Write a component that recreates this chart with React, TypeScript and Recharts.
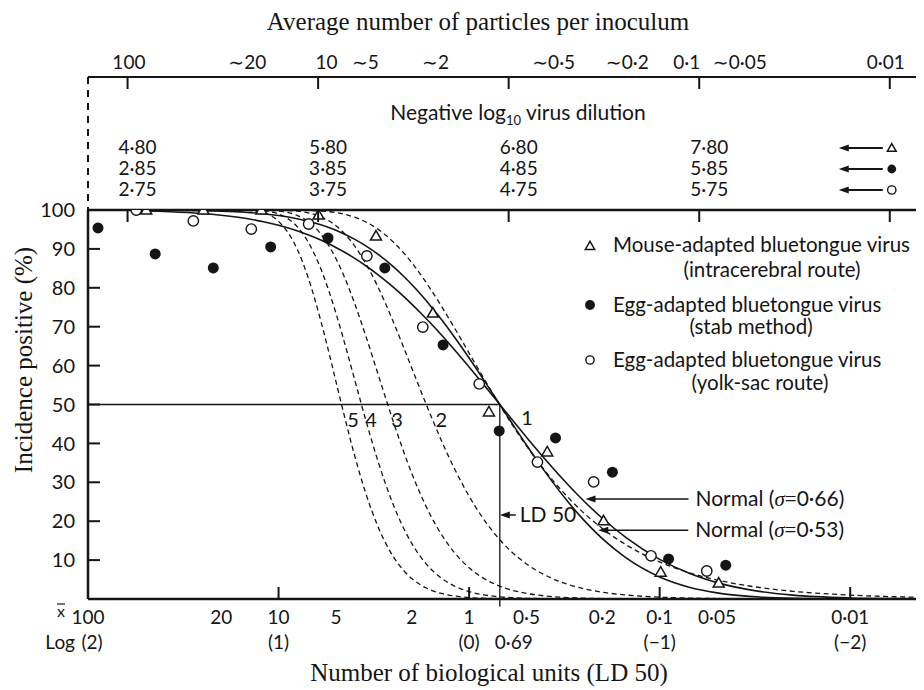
import React from 'react';
import {
  ComposedChart,
  Line,
  Scatter,
  XAxis,
  YAxis,
  ReferenceLine,
  ReferenceDot,
} from 'recharts';

const SANS = 'Lato, "Open Sans", "DejaVu Sans", sans-serif';
const SERIF = '"Liberation Serif", "Times New Roman", serif';
const INK = '#151515';

// Number of biological units (LD50) shown on the bottom axis, largest on the left
const DOMAIN: [number, number] = [0.0041, 100];

type Pair = [number, number];
const toPoints = (pairs: Pair[]) => pairs.map(([m, p]) => ({ m, p }));

// Poisson "at least k units" curves, % positive against units per inoculum
const hit1: Pair[] = [
  [10, 100], [8, 99.97], [7, 99.91], [6, 99.75], [5, 99.33], [4.5, 98.89], [4, 98.17],
  [3.5, 96.98], [3, 95.02], [2.5, 91.79], [2.2, 88.92], [2, 86.47], [1.8, 83.47],
  [1.6, 79.81], [1.4, 75.34], [1.2, 69.88], [1, 63.21], [0.85, 57.26], [0.69, 49.84],
  [0.6, 45.12], [0.5, 39.35], [0.4, 32.97], [0.3, 25.92], [0.25, 22.12], [0.2, 18.13],
  [0.15, 13.93], [0.1, 9.52], [0.07, 6.76], [0.05, 4.88], [0.03, 2.96], [0.02, 1.98],
  [0.01, 1.0], [0.006, 0.6], [0.0041, 0.41],
];
const hit2: Pair[] = [
  [15, 100], [12, 99.99], [10, 99.95], [8, 99.7], [7, 99.27], [6, 98.26], [5, 95.96],
  [4.5, 93.89], [4, 90.84], [3.5, 86.41], [3, 80.08], [2.5, 71.27], [2.2, 64.54],
  [2, 59.4], [1.8, 53.72], [1.6, 47.51], [1.4, 40.82], [1.2, 33.74], [1, 26.42],
  [0.85, 20.93], [0.69, 15.23], [0.6, 12.19], [0.5, 9.02], [0.4, 6.16], [0.3, 3.69],
  [0.25, 2.65], [0.2, 1.75], [0.15, 1.02], [0.1, 0.47], [0.07, 0.23], [0.05, 0.12],
  [0.03, 0.04], [0.02, 0.02], [0.01, 0.0], [0.0041, 0],
];
const hit3: Pair[] = [
  [15, 100], [12, 99.95], [10, 99.72], [8, 98.62], [7, 97.04], [6, 93.8], [5, 87.53],
  [4.5, 82.64], [4, 76.18], [3.5, 67.91], [3, 57.68], [2.5, 45.62], [2.2, 37.73],
  [2, 32.33], [1.8, 26.94], [1.6, 21.66], [1.4, 16.65], [1.2, 12.05], [1, 8.03],
  [0.85, 5.49], [0.69, 3.29], [0.6, 2.31], [0.5, 1.44], [0.4, 0.79], [0.3, 0.36],
  [0.2, 0.12], [0.1, 0.02], [0.05, 0], [0.0041, 0],
];
const hit4: Pair[] = [
  [20, 100], [15, 99.98], [12, 99.77], [10, 98.97], [8, 95.76], [7, 91.82], [6, 84.88],
  [5, 73.5], [4.5, 65.77], [4, 56.64], [3.5, 46.33], [3, 35.27], [2.5, 24.25],
  [2.2, 18.07], [2, 14.29], [1.8, 10.87], [1.6, 7.88], [1.4, 5.37], [1.2, 3.38],
  [1, 1.9], [0.85, 1.12], [0.69, 0.55], [0.6, 0.34], [0.5, 0.18], [0.4, 0.08],
  [0.3, 0.03], [0.2, 0], [0.0041, 0],
];
const hit5: Pair[] = [
  [30, 100], [20, 100], [15, 99.91], [12, 99.24], [10, 97.07], [8, 90.04], [7, 82.7],
  [6, 71.49], [5, 55.95], [4.5, 46.78], [4, 37.1], [3.5, 27.45], [3, 18.47],
  [2.5, 10.89], [2.2, 7.25], [2, 5.26], [1.8, 3.64], [1.6, 2.37], [1.4, 1.42],
  [1.2, 0.78], [1, 0.37], [0.85, 0.19], [0.69, 0.08], [0.5, 0.02], [0.3, 0], [0.0041, 0],
];

// Log-normal (probit) curves through the LD50
const normal66: Pair[] = [
  [50, 99.76], [30, 99.35], [20, 98.66], [15, 97.86], [12, 96.99], [10, 96.07],
  [8, 94.66], [7, 93.63], [6, 92.27], [5, 90.37], [4.5, 89.14], [4, 87.62],
  [3.5, 85.73], [3, 83.33], [2.5, 80.15], [2.2, 77.73], [2, 75.81], [1.8, 73.6],
  [1.6, 71.0], [1.4, 67.92], [1.2, 64.21], [1, 59.65], [0.85, 55.46], [0.69, 50],
  [0.6, 46.33], [0.5, 41.61], [0.4, 35.99], [0.3, 29.18], [0.25, 25.2], [0.2, 20.76],
  [0.15, 15.77], [0.1, 10.19], [0.07, 6.61], [0.05, 4.21], [0.03, 1.95], [0.02, 0.99],
  [0.01, 0.27], [0.006, 0.09], [0.0041, 0.04],
];
const normal53: Pair[] = [
  [50, 99.98], [30, 99.9], [20, 99.71], [15, 99.42], [12, 99.04], [10, 98.58],
  [8, 97.77], [7, 97.12], [6, 96.18], [5, 94.77], [4.5, 93.78], [4, 92.51],
  [3.5, 90.83], [3, 88.58], [2.5, 85.43], [2.2, 82.9], [2, 80.84], [1.8, 78.4],
  [1.6, 75.47], [1.4, 71.9], [1.2, 67.49], [1, 61.95], [0.85, 56.78], [0.69, 50],
  [0.6, 45.44], [0.5, 39.59], [0.4, 32.75], [0.3, 24.75], [0.25, 20.27], [0.2, 15.51],
  [0.15, 10.56], [0.1, 5.67], [0.07, 3.04], [0.05, 1.58], [0.03, 0.51], [0.02, 0.19],
  [0.01, 0.03], [0.0041, 0],
];

// Observed incidence (%)
const mouseIC: Pair[] = [
  [49.5, 100], [24.8, 100], [12.3, 100], [6.17, 98.7], [3.08, 93.3], [1.55, 73.5],
  [0.787, 48.1], [0.389, 37.8], [0.197, 20.1], [0.0988, 6.9], [0.049, 4.1],
];
const eggStab: Pair[] = [
  [88.6, 95.4], [44.4, 88.7], [22, 85.1], [11, 90.5], [5.5, 92.8], [2.77, 85.1],
  [1.37, 65.3], [0.695, 43.2], [0.352, 41.4], [0.177, 32.6], [0.0898, 10.3], [0.045, 8.7],
];
const eggYolk: Pair[] = [
  [55.8, 100], [28, 97.2], [13.9, 95.1], [6.95, 96.4], [3.44, 88.2], [1.75, 69.9],
  [0.885, 55.3], [0.438, 35.2], [0.222, 30.1], [0.111, 11.1], [0.0566, 7.2],
];

// Bottom axis: biological units and their log10
const unitTicks = [100, 20, 10, 5, 2, 1, 0.69, 0.5, 0.2, 0.1, 0.05, 0.01];
const unitLabels = ['100', '20', '10', '5', '2', '1', '', '0·5', '0·2', '0·1', '0·05', '0·01'];
const logLabels = ['(2)', '', '(1)', '', '', '(0)', '0·69', '', '', '(−1)', '', '(−2)'];
const pctTicks = [10, 20, 30, 40, 50, 60, 70, 80, 90, 100];

// Top axes: dilution steps and particle counts
const dilutionTicks = [62, 6.2, 0.62, 0.062, 0.0062];
const mouseDilution = ['4·80', '5·80', '6·80', '7·80'];
const stabDilution = ['2·85', '3·85', '4·85', '5·85'];
const yolkDilution = ['2·75', '3·75', '4·75', '5·75'];
const particleTicks = [61, 14.6, 5.6, 3.5, 1.5, 0.36, 0.148, 0.072, 0.038, 0.0065];
const particleLabels = ['100', '∼20', '10', '∼5', '∼2', '∼0·5', '∼0·2', '0·1', '∼0·05', '0·01'];

const LD50 = 0.69;
const curveTags = [
  { m: 4.06, p: 46, label: '5' },
  { m: 3.27, p: 46, label: '4' },
  { m: 2.39, p: 46, label: '3' },
  { m: 1.4, p: 46, label: '2' },
  { m: 0.496, p: 46.5, label: '1' },
];

type Kind = 'tri' | 'dot' | 'ring';

function Mark({ kind, cx, cy, s = 1 }: { kind: Kind; cx: number; cy: number; s?: number }) {
  if (kind === 'tri') {
    return (
      <path
        d={`M${cx},${cy - 5.5 * s} L${cx + 5.5 * s},${cy + 4 * s} L${cx - 5.5 * s},${cy + 4 * s} Z`}
        fill="#fff"
        stroke={INK}
        strokeWidth={1.5}
      />
    );
  }
  if (kind === 'dot') return <circle cx={cx} cy={cy} r={5.5 * s} fill={INK} />;
  return <circle cx={cx} cy={cy} r={5.2 * s} fill="#fff" stroke={INK} strokeWidth={1.4} />;
}

const rowKinds: Kind[] = ['tri', 'dot', 'ring'];

function DilutionTick(props: any) {
  const { x, y, index } = props;
  const rows = [mouseDilution, stabDilution, yolkDilution];
  const rowY = [y - 56, y - 35, y - 14];
  return (
    <g>
      <line x1={x} x2={x} y1={y - 133} y2={y - 121} stroke={INK} strokeWidth={2} />
      <line x1={x} x2={x} y1={y} y2={y + 12} stroke={INK} strokeWidth={2} />
      {index < 4
        ? rows.map((row, r) => (
            <text key={r} x={x - 9} y={rowY[r]} fontFamily={SANS} fontSize={19} fill={INK}>
              {row[index]}
            </text>
          ))
        : rows.map((_, r) => {
            const cy = rowY[r] - 6;
            return (
              <g key={r}>
                <line x1={x - 44} x2={x - 7} y1={cy} y2={cy} stroke={INK} strokeWidth={1.8} />
                <path d={`M${x - 51},${cy} L${x - 41},${cy - 3.5} L${x - 41},${cy + 3.5} Z`} fill={INK} />
                <Mark kind={rowKinds[r]} cx={x + 2} cy={cy} s={0.8} />
              </g>
            );
          })}
    </g>
  );
}

function ParticleTick(props: any) {
  const { x, y, index } = props;
  return (
    <text x={x} y={y - 8} textAnchor="middle" fontFamily={SANS} fontSize={19} fill={INK}>
      {particleLabels[index]}
    </text>
  );
}

function UnitTick(props: any) {
  const { x, y, index } = props;
  const top = unitLabels[index];
  const bottom = logLabels[index];
  const decade = bottom.startsWith('(');
  return (
    <g fontFamily={SANS} fontSize={19} fill={INK}>
      {decade && index > 0 && (
        <line x1={x} x2={x} y1={y} y2={y - 12} stroke={INK} strokeWidth={2} />
      )}
      {top && (
        <text x={x} y={y + 25} textAnchor="middle">
          {top}
        </text>
      )}
      {index === 0 && (
        <g>
          <text x={x - 27} y={y + 18} textAnchor="middle" fontSize={16}>
            x
          </text>
          <line x1={x - 31} x2={x - 23} y1={y + 5} y2={y + 5} stroke={INK} strokeWidth={1.2} />
          <text x={x - 13} y={y + 50} textAnchor="end">
            Log
          </text>
        </g>
      )}
      {bottom && (
        <text
          x={index === 6 ? x - 5 : index === 0 ? x + 4 : x}
          y={y + 50}
          textAnchor={index === 6 ? 'start' : 'middle'}
        >
          {bottom}
        </text>
      )}
    </g>
  );
}

function DilutionTitle(props: any) {
  const vb = props.viewBox ?? { x: 80, y: 69, width: 836, height: 133 };
  return (
    <g>
      <line
        x1={vb.x}
        x2={vb.x}
        y1={vb.y}
        y2={vb.y + vb.height}
        stroke={INK}
        strokeWidth={2}
        strokeDasharray="7 6"
      />
      <text x={vb.x + vb.width / 2 + 12} y={vb.y + 43} textAnchor="middle" fontFamily={SANS} fontSize={21} fill={INK}>
        Negative log
        <tspan fontSize={13} dy={5}>
          10
        </tspan>
        <tspan dy={-5}> virus dilution</tspan>
      </text>
    </g>
  );
}

function ParticleTitle(props: any) {
  const vb = props.viewBox ?? { x: 80, y: 0, width: 836, height: 69 };
  return (
    <text x={vb.x + vb.width / 2 - 28} y={vb.y + 22} textAnchor="middle" fontFamily={SERIF} fontSize={25} fill={INK}>
      Average number of particles per inoculum
    </text>
  );
}

function UnitsTitle(props: any) {
  const vb = props.viewBox ?? { x: 80, y: 591, width: 836, height: 91 };
  return (
    <text x={vb.x + vb.width / 2 - 17} y={vb.y + 82} textAnchor="middle" fontFamily={SERIF} fontSize={25} fill={INK}>
      Number of biological units (LD 50)
    </text>
  );
}

function PctTitle(props: any) {
  const vb = props.viewBox ?? { x: 0, y: 202, width: 80, height: 389 };
  const x = vb.x + 24;
  const y = vb.y + 150;
  return (
    <text x={x} y={y} transform={`rotate(-90, ${x}, ${y})`} textAnchor="middle" fontFamily={SERIF} fontSize={25} fill={INK}>
      Incidence positive (%)
    </text>
  );
}

function Pointer(props: any) {
  const { cx, cy, len, gap, content } = props;
  return (
    <g>
      <line x1={cx + 6} x2={cx + len} y1={cy} y2={cy} stroke={INK} strokeWidth={1.5} />
      <path d={`M${cx},${cy} L${cx + 10},${cy - 3.5} L${cx + 10},${cy + 3.5} Z`} fill={INK} />
      <text x={cx + len + gap} y={cy + 7} fontFamily={SANS} fontSize={21} fill={INK}>
        {content}
      </text>
    </g>
  );
}

const sigmaText = (v: string) => (
  <>
    Normal (
    <tspan fontFamily={SERIF} fontStyle="italic">
      σ
    </tspan>
    <tspan fontFamily={SERIF}>=</tspan>
    {v})
  </>
);

const dashed = { stroke: INK, strokeWidth: 1.3, strokeDasharray: '5 3.5' };

export default function App() {
  return (
    <div style={{ width: 916, height: 682, background: '#fff' }}>
      <ComposedChart width={916} height={682} margin={{ top: 0, right: 0, bottom: 0, left: 0 }}>
        <XAxis
          xAxisId="dil"
          orientation="top"
          type="number"
          scale="log"
          dataKey="m"
          domain={DOMAIN}
          reversed
          allowDataOverflow
          ticks={dilutionTicks}
          interval={0}
          height={133}
          tickSize={0}
          tickMargin={0}
          tickLine={false}
          axisLine={{ stroke: INK, strokeWidth: 2.5 }}
          tick={(p: any) => <DilutionTick {...p} />}
          label={<DilutionTitle />}
        />
        <XAxis
          xAxisId="part"
          orientation="top"
          type="number"
          scale="log"
          dataKey="m"
          domain={DOMAIN}
          reversed
          allowDataOverflow
          ticks={particleTicks}
          interval={0}
          height={69}
          tickSize={0}
          tickMargin={0}
          tickLine={false}
          axisLine={{ stroke: INK, strokeWidth: 2 }}
          tick={(p: any) => <ParticleTick {...p} />}
          label={<ParticleTitle />}
        />
        <XAxis
          xAxisId="units"
          orientation="bottom"
          type="number"
          scale="log"
          dataKey="m"
          domain={DOMAIN}
          reversed
          allowDataOverflow
          ticks={unitTicks}
          interval={0}
          height={91}
          tickSize={0}
          tickMargin={0}
          tickLine={false}
          axisLine={{ stroke: INK, strokeWidth: 2.5 }}
          tick={(p: any) => <UnitTick {...p} />}
          label={<UnitsTitle />}
        />
        <YAxis
          type="number"
          dataKey="p"
          domain={[0, 100]}
          allowDataOverflow
          ticks={pctTicks}
          interval={0}
          width={80}
          tickSize={-12}
          tickMargin={25}
          tickLine={{ stroke: INK, strokeWidth: 2 }}
          axisLine={{ stroke: INK, strokeWidth: 2.5 }}
          tick={{ fill: INK, fontSize: 20, fontFamily: SANS }}
          label={<PctTitle />}
        />

        <ReferenceLine
          xAxisId="units"
          segment={[{ x: 100, y: 50 }, { x: LD50, y: 50 }]}
          stroke={INK}
          strokeWidth={1.3}
          ifOverflow="visible"
        />
        <ReferenceLine
          xAxisId="units"
          segment={[{ x: LD50, y: 50 }, { x: LD50, y: -2 }]}
          stroke={INK}
          strokeWidth={1.3}
          ifOverflow="visible"
        />

        <Line xAxisId="units" data={toPoints(hit5)} dataKey="p" type="monotone" dot={false} isAnimationActive={false} {...dashed} />
        <Line xAxisId="units" data={toPoints(hit4)} dataKey="p" type="monotone" dot={false} isAnimationActive={false} {...dashed} />
        <Line xAxisId="units" data={toPoints(hit3)} dataKey="p" type="monotone" dot={false} isAnimationActive={false} {...dashed} />
        <Line xAxisId="units" data={toPoints(hit2)} dataKey="p" type="monotone" dot={false} isAnimationActive={false} {...dashed} />
        <Line xAxisId="units" data={toPoints(hit1)} dataKey="p" type="monotone" dot={false} isAnimationActive={false} {...dashed} />
        <Line xAxisId="units" data={toPoints(normal66)} dataKey="p" type="monotone" dot={false} isAnimationActive={false} stroke={INK} strokeWidth={1.6} />
        <Line xAxisId="units" data={toPoints(normal53)} dataKey="p" type="monotone" dot={false} isAnimationActive={false} stroke={INK} strokeWidth={1.6} />

        <Scatter xAxisId="units" data={toPoints(eggStab)} dataKey="p" isAnimationActive={false} shape={(p: any) => <Mark kind="dot" cx={p.cx} cy={p.cy} />} />
        <Scatter xAxisId="units" data={toPoints(eggYolk)} dataKey="p" isAnimationActive={false} shape={(p: any) => <Mark kind="ring" cx={p.cx} cy={p.cy} />} />
        <Scatter xAxisId="units" data={toPoints(mouseIC)} dataKey="p" isAnimationActive={false} shape={(p: any) => <Mark kind="tri" cx={p.cx} cy={p.cy} />} />

        {curveTags.map((t) => (
          <ReferenceDot
            key={t.label}
            xAxisId="units"
            x={t.m}
            y={t.p}
            r={1}
            ifOverflow="visible"
            shape={(p: any) => (
              <text x={p.cx} y={p.cy + 7} textAnchor="middle" fontFamily={SANS} fontSize={20} fill={INK}>
                {t.label}
              </text>
            )}
          />
        ))}
        <ReferenceDot xAxisId="units" x={LD50} y={21.6} r={1} ifOverflow="visible" shape={<Pointer len={16} gap={4} content="LD 50" />} />
        <ReferenceDot xAxisId="units" x={0.245} y={25.7} r={1} ifOverflow="visible" shape={<Pointer len={103} gap={7} content={sigmaText('0·66')} />} />
        <ReferenceDot xAxisId="units" x={0.21} y={17.7} r={1} ifOverflow="visible" shape={<Pointer len={90} gap={7} content={sigmaText('0·53')} />} />

        <g fontFamily={SANS} fontSize={20.5} fill={INK}>
          <Mark kind="tri" cx={582} cy={238} s={0.85} />
          <text x={605} y={244}>Mouse-adapted bluetongue virus</text>
          <text x={764} y={269} textAnchor="middle">(intracerebral route)</text>
          <Mark kind="dot" cx={582} cy={297} s={0.9} />
          <text x={605} y={304}>Egg-adapted bluetongue virus</text>
          <text x={743} y={326} textAnchor="middle">(stab method)</text>
          <Mark kind="ring" cx={582} cy={352} s={0.8} />
          <text x={605} y={359}>Egg-adapted bluetongue virus</text>
          <text x={752} y={382} textAnchor="middle">(yolk-sac route)</text>
        </g>
      </ComposedChart>
    </div>
  );
}
